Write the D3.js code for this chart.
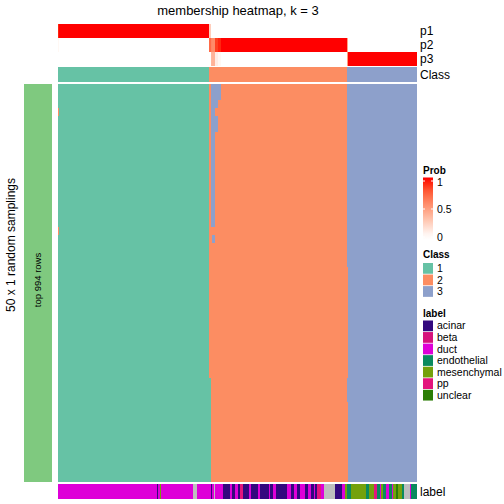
<!DOCTYPE html>
<html><head><meta charset="utf-8">
<script src="https://cdn.jsdelivr.net/npm/d3@7/dist/d3.min.js"></script>
<style>html,body{margin:0;padding:0;background:#fff;}svg{display:block;font-family:"Liberation Sans",Arial,Helvetica,sans-serif;}</style>
</head><body><svg id="c" width="504" height="504"></svg>
<script>
// ---------------- data ----------------
const nCols = 240;
const nRows = 50;
const classNames = ["1","2","3"];
const classColors = ["#66C2A5","#FC8D62","#8DA0CB"];
// class per column as [class, count] runs
const classRuns = [[1,101],[2,92],[3,47]];
// membership probabilities as [value, count] runs
const p1Runs = [[0.96,1],[1,100],[0.26,1],[0,138]];
const p2Runs = [[0.04,1],[0,100],[0.74,1],[0.62,1],[0.6,2],[0.9,2],[0.96,2],[1,84],[0.48,1],[0,46]];
const p3Runs = [[0,102],[0.38,1],[0.4,2],[0.1,2],[0.04,2],[0,84],[0.52,1],[1,46]];
const probTicks = [0,0.5,1];
// sample labels
const labelNames = ["acinar","beta","duct","endothelial","mesenchymal","pp","unclear"];
const labelColors = ["#33087E","#D5127C","#DE00D8","#0A8A5E","#74A10C","#E3157D","#2C7E06"];
const naColor = "#BEBEBE";
const labelRuns = [
 ["duct",66],["acinar",1],["duct",1],["mesenchymal",1],["duct",21],["NA",3],["duct",9],["acinar",1],
 ["duct",1],["NA",1],["duct",5],["acinar",5],["duct",1],["acinar",2],["duct",2],["acinar",2],["pp",2],
 ["acinar",4],["duct",1],["acinar",5],["duct",1],["acinar",6],["duct",1],["acinar",2],["duct",2],
 ["acinar",7],["duct",3],["acinar",2],["duct",2],["acinar",2],["duct",3],["acinar",2],["duct",2],
 ["acinar",2],["duct",1],["acinar",1],["pp",3],["duct",2],["NA",7],["acinar",5],["duct",2],
 ["mesenchymal",1],["endothelial",3],["mesenchymal",10],["endothelial",2],["mesenchymal",3],["pp",2],
 ["endothelial",2],["duct",1],["mesenchymal",1],["endothelial",2],["duct",2],["endothelial",2],
 ["duct",1],["mesenchymal",2],["unclear",1],["mesenchymal",3],["endothelial",1],["NA",4],["duct",1],
 ["endothelial",4]
];
// per-sampling deviations from the consensus class: rows [from,to], cols [from,to]
const deviations = [
 {rows:[0,1],cols:[102,108],cls:3},
 {rows:[2,2],cols:[102,106],cls:3},
 {rows:[3,3],cols:[102,104],cls:3},
 {rows:[4,5],cols:[102,106],cls:3},
 {rows:[6,17],cols:[102,104],cls:3},
 {rows:[19,19],cols:[103,104],cls:3},
 {rows:[3,3],cols:[0,0],cls:2},
 {rows:[18,18],cols:[0,0],cls:2},
 {rows:[37,49],cols:[101,101],cls:1},
 {rows:[23,36],cols:[193,193],cls:2},
 {rows:[40,49],cols:[193,193],cls:2}
];

// ---------------- drawing ----------------
const svg = d3.select("#c");
const x = d3.scaleBand().domain(d3.range(nCols)).range([58,417]).paddingInner(0).paddingOuter(0);
const yRow = d3.scaleBand().domain(d3.range(nRows)).range([84,481.5]);
const probColor = d3.scaleLinear().domain([0,1]).range(["#FFFFFF","#FF0000"]).interpolate(d3.interpolateLab);
const classColor = d3.scaleOrdinal().domain([1,2,3]).range(classColors);
const labelColor = d3.scaleOrdinal().domain(labelNames.concat(["NA"])).range(labelColors.concat([naColor]));

function toSegments(runs){
  let s=0; return runs.map(([v,n])=>{const o={v,start:s,end:s+n-1}; s+=n; return o;});
}
function segX(d){return x(d.start);}
function segW(d){return x(d.end)+x.bandwidth()-x(d.start);}

const g = svg.append("g").attr("shape-rendering","crispEdges");

// title
svg.append("text").attr("x",238).attr("y",15).attr("text-anchor","middle")
  .attr("font-size",13).text("membership heatmap, k = 3");

// prob rows
const annRows = [{name:"p1",runs:p1Runs,y0:24,y1:38},{name:"p2",runs:p2Runs,y0:38,y1:52},{name:"p3",runs:p3Runs,y0:52,y1:66}];
annRows.forEach(r=>{
  g.selectAll(null).data(toSegments(r.runs)).join("rect")
    .attr("x",segX).attr("width",segW).attr("y",r.y0).attr("height",r.y1-r.y0)
    .attr("fill",d=>probColor(d.v));
  svg.append("text").attr("x",420).attr("y",(r.y0+r.y1)/2).attr("dy","0.35em")
    .attr("font-size",12).text(r.name);
});
// class row
g.selectAll(null).data(toSegments(classRuns)).join("rect")
  .attr("x",segX).attr("width",segW).attr("y",67).attr("height",14.5)
  .attr("fill",d=>classColor(d.v));
svg.append("text").attr("x",420).attr("y",74.3).attr("dy","0.35em").attr("font-size",12).text("Class");

// main matrix
const base = [];
toSegments(classRuns).forEach(s=>{for(let c=s.start;c<=s.end;c++) base[c]=s.v;});
const matrix = d3.range(nRows).map(()=>base.slice());
deviations.forEach(dv=>{
  for(let r=dv.rows[0];r<=dv.rows[1];r++) for(let c=dv.cols[0];c<=dv.cols[1];c++) matrix[r][c]=dv.cls;
});
matrix.forEach((row,r)=>{
  const runs=[]; row.forEach(v=>{ if(runs.length && runs[runs.length-1][0]===v) runs[runs.length-1][1]++; else runs.push([v,1]); });
  g.selectAll(null).data(toSegments(runs)).join("rect")
    .attr("x",segX).attr("width",segW).attr("y",yRow(r)).attr("height",yRow.bandwidth())
    .attr("fill",d=>classColor(d.v));
});

// label row
g.selectAll(null).data(toSegments(labelRuns)).join("rect")
  .attr("x",segX).attr("width",segW).attr("y",484).attr("height",14.5)
  .attr("fill",d=>labelColor(d.v));
svg.append("text").attr("x",420).attr("y",491.5).attr("dy","0.35em").attr("font-size",12).text("label");

// left bar
g.append("rect").attr("x",24).attr("y",84).attr("width",28).attr("height",397.5).attr("fill","#7FC97F");
svg.append("text").attr("transform","translate(38,280) rotate(-90)").attr("text-anchor","middle")
  .attr("dy","0.35em").attr("font-size",9.5).text("top 994 rows");
svg.append("text").attr("transform","translate(11,245) rotate(-90)").attr("text-anchor","middle")
  .attr("dy","0.35em").attr("font-size",12).text("50 x 1 random samplings");

// ---------------- legends ----------------
const lx = 423;
const lfs = 10.5;
svg.append("text").attr("x",lx).attr("y",173.5).attr("font-size",10).attr("font-weight","bold").text("Prob");
const py = d3.scaleLinear().domain([0,1]).range([237,181]);
const defs = svg.append("defs");
const grad = defs.append("linearGradient").attr("id","pg").attr("x1",0).attr("x2",0).attr("y1",1).attr("y2",0);
const gTop=177.5, gBot=240;
d3.range(0,1.0001,0.1).forEach(t=>{
  const yy = gBot - t*(gBot-gTop);
  const v = Math.max(0,Math.min(1,py.invert(yy)));
  grad.append("stop").attr("offset",t).attr("stop-color",probColor(v));
});
svg.append("rect").attr("x",lx).attr("y",gTop).attr("width",10).attr("height",gBot-gTop).attr("fill","url(#pg)");
probTicks.forEach(t=>{
  const yy=py(t);
  svg.append("line").attr("x1",lx).attr("x2",lx+2).attr("y1",yy).attr("y2",yy).attr("stroke","#fff").attr("stroke-width",1);
  svg.append("line").attr("x1",lx+8).attr("x2",lx+10).attr("y1",yy).attr("y2",yy).attr("stroke","#fff").attr("stroke-width",1);
  svg.append("text").attr("x",437).attr("y",yy+(t===1?1:0)).attr("dy","0.35em").attr("font-size",lfs).text(t===0.5?"0.5":String(t));
});

const pitch = 11.55;
svg.append("text").attr("x",lx).attr("y",258).attr("font-size",10).attr("font-weight","bold").text("Class");
classNames.forEach((c,i)=>{
  svg.append("rect").attr("x",lx).attr("y",263+i*pitch).attr("width",10).attr("height",pitch-0.8).attr("fill",classColors[i]);
  svg.append("text").attr("x",437).attr("y",268.3+i*pitch).attr("dy","0.35em").attr("font-size",lfs).text(c);
});

svg.append("text").attr("x",lx).attr("y",316.5).attr("font-size",10).attr("font-weight","bold").text("label");
labelNames.forEach((c,i)=>{
  svg.append("rect").attr("x",lx).attr("y",320.5+i*pitch).attr("width",10).attr("height",pitch-0.8).attr("fill",labelColors[i]);
  svg.append("text").attr("x",437).attr("y",325.8+i*pitch).attr("dy","0.35em").attr("font-size",lfs).text(c);
});
</script></body></html>
